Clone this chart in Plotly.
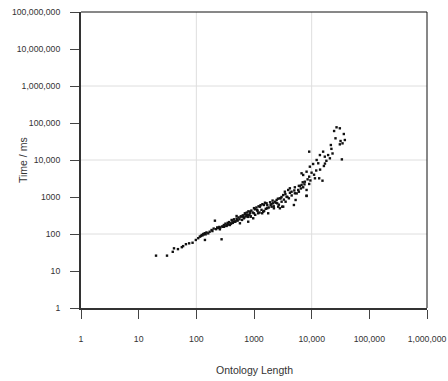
import plotly.graph_objects as go

# Ontology length (x) and time in ms (y)
length = [20, 31, 39, 41, 48, 56, 59, 66, 75, 86, 98, 108, 115, 124, 135, 141, 161, 184,
          210, 256, 274, 293, 335, 382, 409, 467, 499, 570, 650, 695, 794, 849, 969, 1037,
          1183, 1265, 1443, 1652, 1762,
          301, 343, 393, 448, 512, 586, 668, 762, 873, 996, 1136, 1386, 1485, 1694, 1941,
          2214, 2525, 3083, 2893, 3531, 4027, 5265, 4920, 8160, 6000,
          27000, 30800, 24500, 36100, 25900, 31700, 37600, 21500, 30800, 34300, 33400,
          9060, 15800, 13900, 16900, 19300, 20700, 12200, 13000, 10600, 16300, 9300,
          9960, 8160, 7130, 6680, 9060, 11400, 13500, 15400, 7620, 6680, 9060, 8160,
          5840, 7130, 6250, 5110, 4190, 4480, 3920, 8160, 5110, 3430, 3210, 3670, 2810,
          2470, 2300, 3010, 2150, 3210, 2630, 2020, 2810,
          120, 128, 132, 140, 150, 145, 170, 190, 200, 220, 230, 240, 250, 260, 280, 300,
          310, 320, 350, 360, 370, 400, 420, 430, 450, 480, 500, 520, 540, 560, 600, 620,
          640, 680, 700, 720, 750, 780, 800, 820, 850, 880, 900, 950, 1000, 1050, 1100,
          1150, 1200, 1250, 1300, 1350, 1400, 1500, 1550, 1600, 1700, 1800, 1900, 2000,
          2100, 2200, 2400, 2600, 2700, 3000, 3300, 3500, 3800, 4200, 4500, 5000, 5500,
          6000, 6500, 7000, 7500, 8500, 9500, 11000, 12000, 14000, 17000, 18000, 22000,
          23000]
time_ms = [26, 26, 33, 41, 39, 44, 47, 53, 56, 58, 69, 77, 85, 94, 98, 69, 104, 128,
           229, 134, 72, 157, 165, 175, 239, 215, 306, 195, 294, 363, 215, 400, 266, 465,
           363, 547, 400, 676, 363,
           157, 175, 195, 215, 239, 294, 266, 326, 294, 363, 445, 363, 608, 495, 608,
           495, 676, 547, 922, 746, 922, 830, 608, 1084, 1390,
           76500, 71900, 60800, 50400, 38600, 32600, 34700, 25400, 26500, 28200, 10400,
           16800, 16800, 13600, 12300, 13600, 11100, 10000, 8150, 7800, 6890, 6600,
           4540, 4830, 3940, 4370, 3540, 3200, 3200, 2760, 2590, 2110, 2250, 1550,
           1550, 1830, 1980, 1830, 1720, 1390, 1550, 1065, 1260, 1390, 1130, 1020, 922,
           830, 746, 746, 676, 547, 547, 547, 495,
           88, 92, 100, 105, 110, 98, 115, 120, 140, 135, 150, 145, 155, 150, 160, 175,
           165, 190, 200, 180, 210, 190, 230, 200, 250, 220, 260, 230, 280, 250, 300, 240,
           320, 280, 340, 300, 380, 290, 410, 330, 360, 300, 430, 380, 500, 330, 520,
           420, 560, 380, 600, 450, 640, 420, 700, 480, 600, 520, 720, 650,
           800, 560, 700, 900, 620, 1000, 850, 1200, 1000, 1300, 1100, 1500, 1250,
           2000, 1700, 2500, 2200, 3000, 2800, 4000, 5200, 5500, 8000, 9500, 20000,
           15000]

x_tickvals = [1, 10, 100, 1000, 10000, 100000, 1000000]
x_ticktext = ["1", "10", "100", "1000", "10,000", "100,000", "1,000,000"]
y_tickvals = [1, 10, 100, 1000, 10000, 100000, 1000000, 10000000, 100000000]
y_ticktext = ["1", "10", "100", "1000", "10,000", "100,000", "1,000,000",
              "10,000,000", "100,000,000"]
x_title = "Ontology Length"
y_title = "Time / ms"

FONT = "Liberation Sans, Arial, sans-serif"

fig = go.Figure()
fig.add_trace(go.Scatter(
    x=length, y=time_ms, mode="markers",
    marker=dict(symbol="square", size=2.4, color="#111111", line=dict(width=0)),
    hoverinfo="skip", showlegend=False))

grid = "#dedede"
shapes = []
for f in [2 / 6, 4 / 6]:
    shapes.append(dict(type="line", xref="x domain", yref="y domain", x0=f, x1=f, y0=0, y1=1,
                       line=dict(color=grid, width=1), layer="below"))
for f in [0.25, 0.5, 0.75]:
    shapes.append(dict(type="line", xref="x domain", yref="y domain", x0=0, x1=1, y0=f, y1=f,
                       line=dict(color=grid, width=1), layer="below"))
# thin top and right frame
shapes.append(dict(type="line", xref="x domain", yref="y domain", x0=0, x1=1, y0=1, y1=1,
                   line=dict(color="#111111", width=1)))
shapes.append(dict(type="line", xref="x domain", yref="y domain", x0=1, x1=1, y0=0, y1=1,
                   line=dict(color="#111111", width=1)))

W, H = 448, 381
L, R, T, B = 81, 21, 12, 73
pw, ph = W - L - R, H - T - B

annotations = [
    dict(text=x_title, xref="paper", yref="paper", x=0.5, y=(308 - 370) / ph,
         xanchor="center", yanchor="middle", showarrow=False,
         font=dict(size=10.5, color="#333333")),
    dict(text=y_title, xref="paper", yref="paper", x=(23 - L) / pw, y=0.5,
         xanchor="center", yanchor="middle", textangle=-90, showarrow=False,
         font=dict(size=10.5, color="#333333")),
]

fig.update_layout(
    width=W, height=H,
    margin=dict(l=L, r=R, t=T, b=B),
    paper_bgcolor="white", plot_bgcolor="white",
    font=dict(family=FONT, size=8.7, color="#333333"),
    shapes=shapes, annotations=annotations,
    xaxis=dict(type="log", range=[0, 6], tickvals=x_tickvals, ticktext=x_ticktext,
               ticks="outside", ticklen=9, tickwidth=1.3, tickcolor="#444444",
               showgrid=False, zeroline=False, showline=True, linewidth=2,
               linecolor="#333333", ticklabelstandoff=13, automargin=False,
               ticklabeloverflow="allow"),
    yaxis=dict(type="log", range=[0, 8], tickvals=y_tickvals, ticktext=y_ticktext,
               ticks="outside", ticklen=9, tickwidth=1.3, tickcolor="#444444",
               showgrid=False, zeroline=False, showline=True, linewidth=2,
               linecolor="#333333", ticklabelstandoff=8, automargin=False,
               ticklabeloverflow="allow"),
)

fig.write_html("out.html", config={"displayModeBar": False},
               post_script="document.body.style.margin='0';")
